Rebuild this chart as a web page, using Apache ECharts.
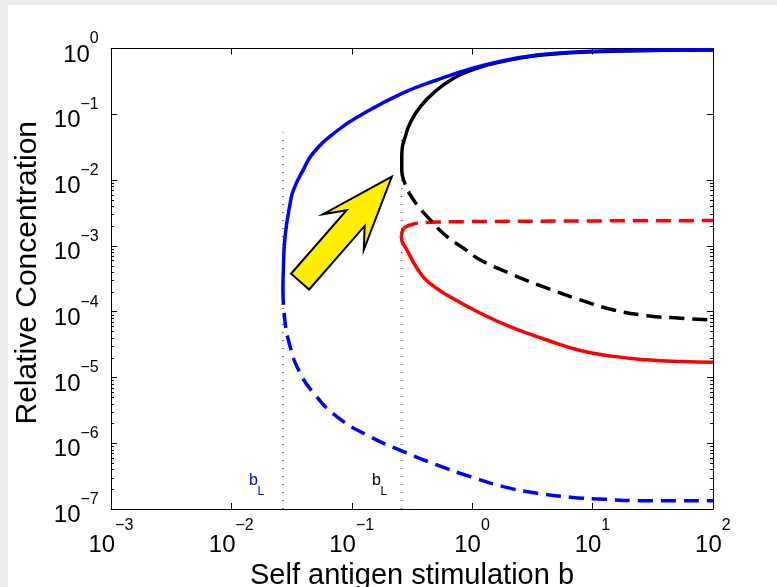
<!DOCTYPE html>
<html>
<head>
<meta charset="utf-8">
<script src="https://cdn.jsdelivr.net/npm/echarts@6/dist/echarts.min.js"></script>
<style>
  html, body { margin: 0; padding: 0; width: 777px; height: 587px; overflow: hidden; background: #ececec; }
  #chart { position: absolute; left: 8px; top: 5px; width: 769px; height: 582px; background: #ffffff; }
</style>
</head>
<body>
<div id="chart"></div>
<script>
// Axis ranges (log-log)
const xRange = [1e-3, 1e2];
const yRange = [1e-7, 1];

// Blue system: stable upper branch and unstable lower branch, joined at the fold b_L
const blueUpperB = [0.0268, 0.0270, 0.0279, 0.0308, 0.0328, 0.0394, 0.0478, 0.0751, 0.1175, 0.267, 0.509, 0.964, 1.81, 3.46, 6.54, 17.0, 100];
const blueUpperC = [2.14e-4, 4.30e-4, 1.37e-3, 4.49e-3, 7.08e-3, 0.0142, 0.0258, 0.0557, 0.0959, 0.211, 0.332, 0.488, 0.652, 0.797, 0.875, 0.925, 0.955];
const blueLowerB = [0.0268, 0.0274, 0.0308, 0.0372, 0.0481, 0.0751, 0.142, 0.269, 0.509, 0.964, 1.82, 3.46, 6.54, 12.4, 23.4, 100];
const blueLowerC = [2.14e-4, 9.55e-5, 2.91e-5, 1.17e-5, 5.81e-6, 2.54e-6, 1.26e-6, 7.45e-7, 4.68e-7, 3.10e-7, 2.19e-7, 1.74e-7, 1.51e-7, 1.41e-7, 1.34e-7, 1.33e-7];

// Black system
const blackUpperB = [0.2600, 0.2600, 0.2615, 0.278, 0.305, 0.371, 0.509, 0.700, 0.964, 1.33, 1.82, 3.46, 6.54, 17.0, 100];
const blackUpperC = [0.01424, 0.0217, 0.0287, 0.0457, 0.0730, 0.1305, 0.234, 0.352, 0.460, 0.561, 0.640, 0.780, 0.860, 0.915, 0.950];
const blackLowerB = [0.2600, 0.269, 0.326, 0.449, 0.618, 0.849, 1.17, 2.21, 4.19, 7.92, 15.0, 28.4, 53.7, 100];
const blackLowerC = [0.01424, 0.01004, 4.99e-3, 2.48e-3, 1.38e-3, 9.20e-4, 6.11e-4, 3.61e-4, 2.27e-4, 1.51e-4, 1.06e-4, 8.69e-5, 7.94e-5, 7.48e-5];

// Red system
const redUpperB = [0.270, 0.326, 0.449, 0.849, 7.92, 100];
const redUpperC = [1.87e-3, 2.15e-3, 2.28e-3, 2.33e-3, 2.39e-3, 2.42e-3];
const redLowerB = [0.270, 0.258, 0.287, 0.371, 0.449, 0.618, 1.17, 2.21, 4.19, 7.92, 15.0, 28.4, 53.7, 100];
const redLowerC = [1.87e-3, 1.38e-3, 8.66e-4, 3.83e-4, 2.66e-4, 1.79e-4, 9.46e-5, 5.60e-5, 3.71e-5, 2.57e-5, 2.09e-5, 1.85e-5, 1.74e-5, 1.70e-5];

// Fold positions b_L and the height the dotted markers reach
const foldB = [0.0268, 0.2600];
const foldMarkTop = 0.053;
const foldLabelB = [0.01403, 0.1469];
const foldLabelC = 2.04e-7;
const foldColors = ['#0000ff', '#000000'];

// Arrow annotation: tail and tip in data space
const arrowTail = [0.0372, 2.86e-4];
const arrowTip = [0.215, 0.01127];

// Minor ticks on the concentration axis
const minorDecades = [-7, -6, -5, -4, -3];
const minorSteps = [2, 3, 4, 5, 6, 7, 8, 9];

const FONT = "'Liberation Sans', Arial, Helvetica, sans-serif";

function pairs(bs, cs) { return bs.map((b, i) => [b, cs[i]]); }

// "10" with a raised exponent; the trailing spacer token sets the line height
function powLabel(v) {
  const e = Math.round(Math.log10(v));
  return '{b|10}{s|' + (e < 0 ? '\u2212' + (-e) : String(e)) + '}{z| }';
}
function powRich(spacer) {
  return {
    b: { fontSize: 24, fontFamily: FONT, color: '#000', lineHeight: 24, verticalAlign: 'bottom' },
    s: { fontSize: 16, fontFamily: FONT, color: '#000', lineHeight: 16, verticalAlign: 'top' },
    z: { fontSize: 1, fontFamily: FONT, lineHeight: spacer }
  };
}

const minorVals = [];
minorDecades.forEach(d => minorSteps.forEach(k => minorVals.push([1, k * Math.pow(10, d)])));

function curve(name, bs, cs, color, dashed) {
  return {
    name: name, type: 'line', data: pairs(bs, cs),
    showSymbol: false, symbol: 'none', smooth: 0.5,
    lineStyle: { color: color, width: 3.5, type: dashed ? [15, 8] : 'solid', cap: 'butt' },
    clip: false, silent: true
  };
}

const baseAxis = {
  type: 'log', logBase: 10,
  axisLine: { show: true, onZero: false, lineStyle: { color: '#000', width: 1 } },
  axisTick: { show: true, inside: true, length: 6, lineStyle: { color: '#000', width: 1 } },
  splitLine: { show: false },
  minorTick: { show: false }
};

const chart = echarts.init(document.getElementById('chart'), null, { renderer: 'canvas' });

chart.setOption({
  animation: false,
  backgroundColor: '#ffffff',
  grid: { left: 103, top: 43.5, right: 64, bottom: 78, containLabel: false, outerBoundsMode: 'none' },
  xAxis: [
    Object.assign({}, baseAxis, {
      position: 'bottom', min: xRange[0], max: xRange[1], splitNumber: 5,
      axisLabel: { formatter: powLabel, rich: powRich(39), margin: 9 },
      name: 'Self antigen stimulation b', nameLocation: 'middle', nameGap: 52,
      nameTextStyle: { fontFamily: FONT, fontSize: 29, color: '#000' }
    }),
    Object.assign({}, baseAxis, {
      position: 'top', min: xRange[0], max: xRange[1], splitNumber: 5,
      axisLabel: { show: false }
    })
  ],
  yAxis: [
    Object.assign({}, baseAxis, {
      position: 'left', min: yRange[0], max: yRange[1], splitNumber: 7,
      axisLabel: { formatter: powLabel, rich: powRich(36), margin: 12, padding: [1, 0, 0, 0] },
      name: 'Relative Concentration', nameLocation: 'middle', nameGap: 66, nameRotate: 90,
      nameTextStyle: { fontFamily: FONT, fontSize: 30, color: '#000', padding: [0, 0, 0, 12] }
    }),
    Object.assign({}, baseAxis, {
      position: 'right', min: yRange[0], max: yRange[1], splitNumber: 7,
      axisLabel: { show: false }
    })
  ],
  series: [
    // dotted fold markers
    {
      type: 'line', data: [[foldB[0], yRange[0]], [foldB[0], foldMarkTop]],
      showSymbol: false, symbol: 'none', silent: true,
      lineStyle: { color: '#000', width: 1, type: [1, 7] }
    },
    {
      type: 'line', data: [[foldB[1], yRange[0]], [foldB[1], foldMarkTop]],
      showSymbol: false, symbol: 'none', silent: true,
      lineStyle: { color: '#000', width: 1, type: [1, 7] }
    },
    curve('red upper', redUpperB, redUpperC, '#ff0000', true),
    curve('red lower', redLowerB, redLowerC, '#ff0000', false),
    curve('black lower', blackLowerB, blackLowerC, '#000000', true),
    curve('black upper', blackUpperB, blackUpperC, '#000000', false),
    curve('blue lower', blueLowerB, blueLowerC, '#0000ff', true),
    curve('blue upper', blueUpperB, blueUpperC, '#0000ff', false),
    // minor ticks on left and right frame
    {
      type: 'custom', silent: true, clip: false, z: 3,
      data: minorVals, encode: { x: 0, y: 1 },
      renderItem: function (params, api) {
        const cs = params.coordSys;
        const y = Math.round(api.coord([1, api.value(1)])[1]) + 0.5;
        return {
          type: 'group',
          children: [
            { type: 'line', shape: { x1: cs.x, y1: y, x2: cs.x + 3, y2: y }, style: { stroke: '#000', lineWidth: 1 } },
            { type: 'line', shape: { x1: cs.x + cs.width - 3, y1: y, x2: cs.x + cs.width, y2: y }, style: { stroke: '#000', lineWidth: 1 } }
          ]
        };
      }
    },
    // arrow annotation
    {
      type: 'custom', silent: true, clip: false, z: 6,
      data: [[arrowTail[0], arrowTail[1], arrowTip[0], arrowTip[1]]],
      encode: { x: [0, 2], y: [1, 3] },
      renderItem: function (params, api) {
        const a = api.coord([api.value(0), api.value(1)]);
        const t = api.coord([api.value(2), api.value(3)]);
        const dx = t[0] - a[0], dy = t[1] - a[1], L = Math.hypot(dx, dy);
        const ux = dx / L, uy = dy / L, nx = -uy, ny = ux;
        const hl = 73.5, hw = 27, nl = 55, sw = 12;
        const P = (bx, by, along, side) => [bx - along * ux + side * nx, by - along * uy + side * ny];
        const pts = [
          [t[0], t[1]],
          P(t[0], t[1], hl, -hw),
          P(t[0], t[1], nl, -sw),
          P(a[0], a[1], 0, -sw),
          P(a[0], a[1], 0, sw),
          P(t[0], t[1], nl, sw),
          P(t[0], t[1], hl, hw)
        ];
        return { type: 'polygon', shape: { points: pts }, style: { fill: '#ffee00', stroke: '#000', lineWidth: 2, lineJoin: 'miter' } };
      }
    },
    // b_L labels
    {
      type: 'custom', silent: true, clip: false, z: 6,
      data: foldLabelB.map((b, i) => [b, foldLabelC, i]),
      encode: { x: 0, y: 1 },
      renderItem: function (params, api) {
        const p = api.coord([api.value(0), api.value(1)]);
        const col = foldColors[api.value(2)];
        return {
          type: 'group',
          children: [
            { type: 'text', x: p[0], y: p[1], style: { text: 'b', font: '16px ' + FONT, fill: col, align: 'left', verticalAlign: 'bottom' } },
            { type: 'text', x: p[0] + 8.5, y: p[1] + 9, style: { text: 'L', font: '12px ' + FONT, fill: col, align: 'left', verticalAlign: 'bottom' } }
          ]
        };
      }
    }
  ]
});
</script>
</body>
</html>
